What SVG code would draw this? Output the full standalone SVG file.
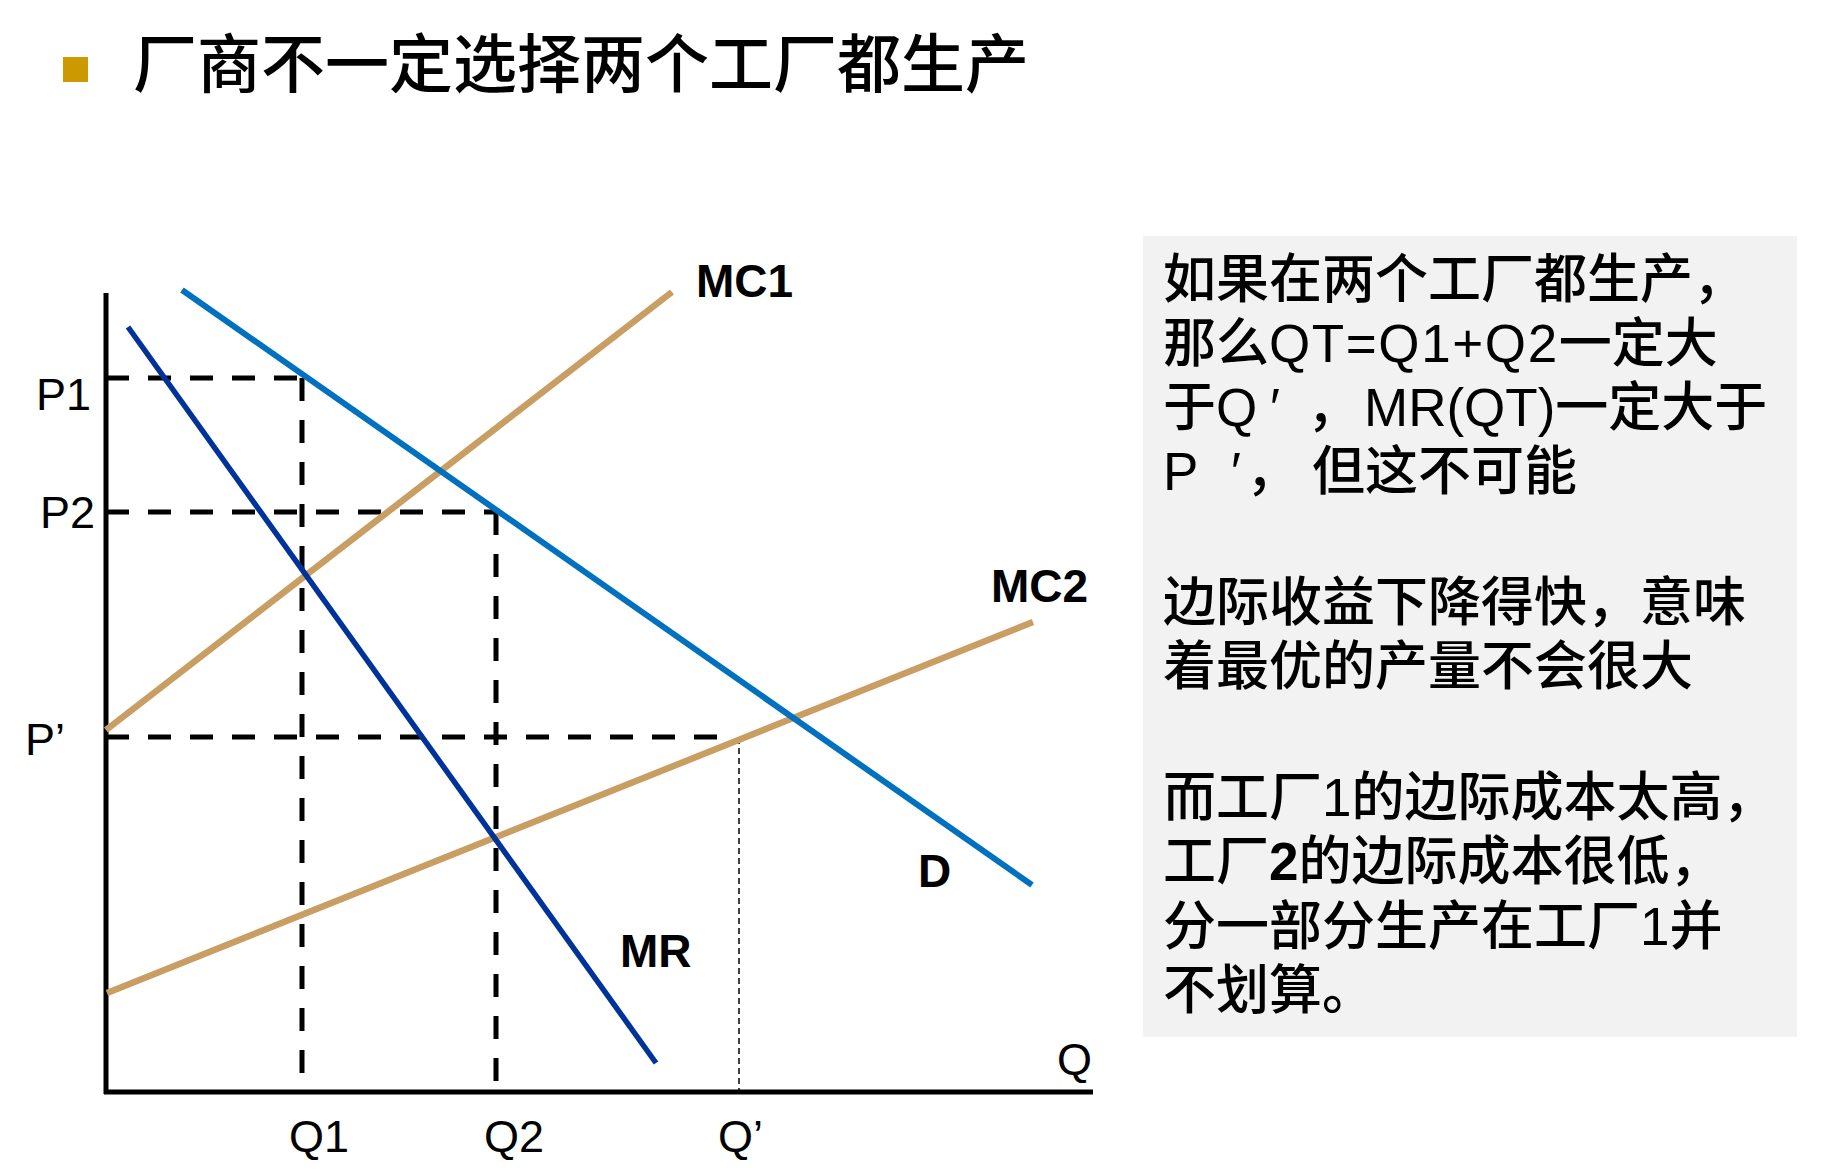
<svg xmlns="http://www.w3.org/2000/svg" width="1840" height="1170" viewBox="0 0 1840 1170">
<style>
.t{font-family:'Liberation Sans','Noto Sans CJK SC',sans-serif;fill:#000}
.ax{stroke:#000;stroke-width:5;fill:none}
.dash{stroke:#000;stroke-width:5;stroke-dasharray:23 19;fill:none}
.thin{stroke:#000;stroke-width:1.5;stroke-dasharray:6 4;fill:none}
.mc{stroke:#C89E62;stroke-width:6.5;fill:none}
.lbl{font-size:45px}
.bl{font-size:46px;font-weight:bold}
.box{font-size:53px;font-weight:500}
</style>
<rect width="1840" height="1170" fill="#fff"/>
<g id="title">
<rect x="63" y="57" width="25" height="25" fill="#CC9900"/>
<text class="t" x="133" y="87" font-size="64" font-weight="500">厂商不一定选择两个工厂都生产</text>
</g>
<g id="axes">
<line class="ax" x1="106" y1="293" x2="106" y2="1094"/>
<line class="ax" x1="104" y1="1092" x2="1093" y2="1092"/>
<text class="t lbl" x="1057" y="1075">Q</text>
</g>
<g id="guides">
<path class="dash" d="M106 378H302M302 378V1073"/>
<path class="dash" d="M106 512H496M496 512V1082"/>
<path class="dash" d="M106 737H725"/>
<path class="thin" d="M739 738V1090"/>
</g>
<g id="curves">
<line id="MC1" class="mc" x1="106" y1="730" x2="672" y2="292"/>
<line id="MC2" class="mc" x1="107" y1="993" x2="1033" y2="622"/>
<line id="D" x1="182" y1="290" x2="1032" y2="885" stroke="#0070C0" stroke-width="6"/>
<line id="MR" x1="128" y1="327" x2="656" y2="1063" stroke="#003399" stroke-width="5.5"/>
</g>
<g id="labels">
<text class="t lbl" x="36" y="410">P1</text>
<text class="t lbl" x="40" y="528">P2</text>
<text class="t lbl" x="25" y="755">P’</text>
<text class="t lbl" x="289" y="1152">Q1</text>
<text class="t lbl" x="484" y="1152">Q2</text>
<text class="t lbl" x="718" y="1152">Q’</text>
<text class="t bl" x="696" y="297">MC1</text>
<text class="t bl" x="991" y="602">MC2</text>
<text class="t bl" x="918" y="887">D</text>
<text class="t bl" x="620" y="967">MR</text>
</g>
<g id="note">
<rect x="1143" y="236" width="654" height="801" fill="#F2F2F2"/>
<text class="t box" x="1163" y="298">如果在两个工厂都生产，</text>
<text class="t box" x="1163" y="362">那么<tspan letter-spacing="1.6">QT=Q1+Q2</tspan>一定大</text>
<text class="t box" y="426"><tspan x="1163">于Q</tspan><tspan x="1270">′</tspan><tspan x="1307">，</tspan><tspan x="1364">MR(QT)一定大于</tspan></text>
<text class="t box" y="490"><tspan x="1163">P</tspan><tspan x="1231">′</tspan><tspan x="1246">，</tspan><tspan x="1312">但这不可能</tspan></text>
<text class="t box" x="1163" y="621">边际收益下降得快，意味</text>
<text class="t box" x="1163" y="685">着最优的产量不会很大</text>
<text class="t box" x="1163" y="816">而工厂1的边际成本太高，</text>
<text class="t box" x="1163" y="880">工厂<tspan font-weight="bold">2</tspan>的边际成本很低，</text>
<text class="t box" x="1163" y="945">分一部分生产在工厂1并</text>
<text class="t box" x="1163" y="1009">不划算。</text>
</g>
</svg>
